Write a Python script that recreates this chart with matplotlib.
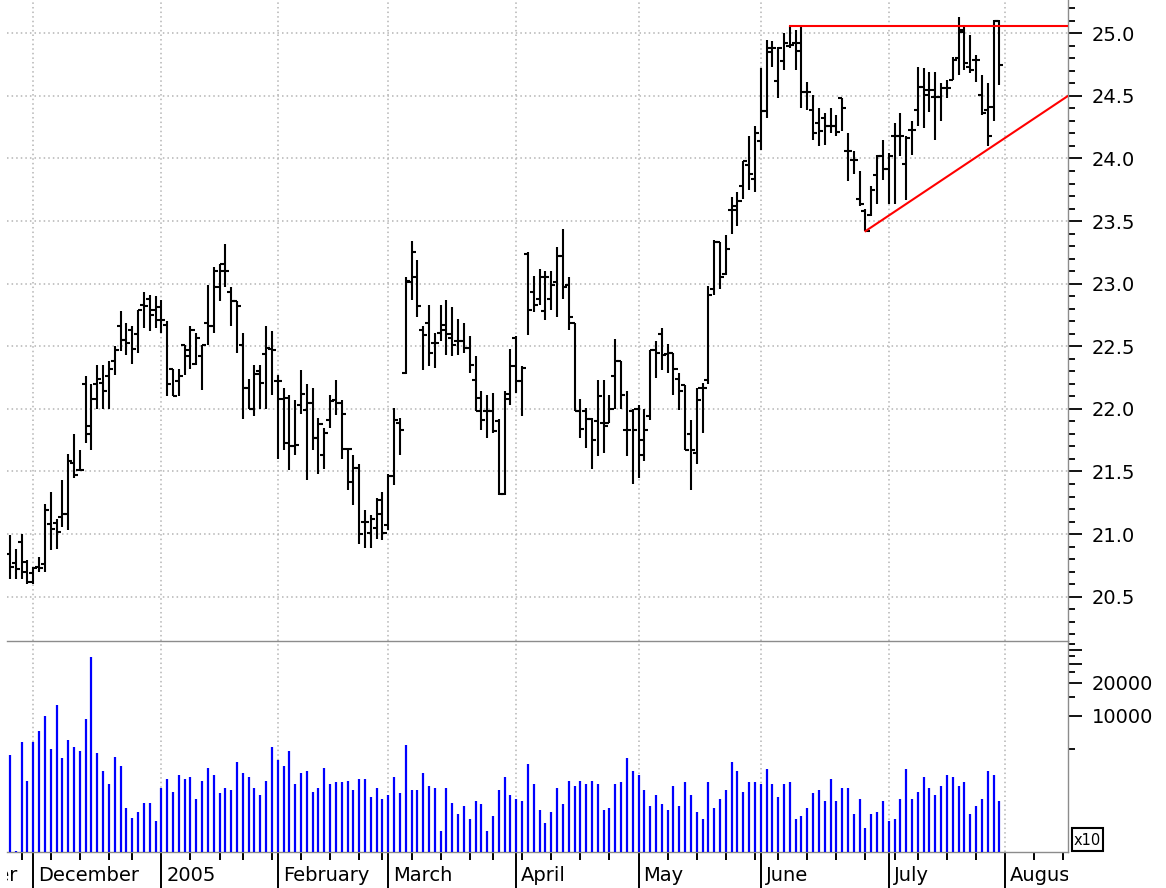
import numpy as np
import pandas as pd
import matplotlib
matplotlib.use("Agg")
import matplotlib.pyplot as plt
from matplotlib.collections import LineCollection
from matplotlib.ticker import FixedLocator, MultipleLocator, NullFormatter, FuncFormatter
from matplotlib.patches import Rectangle

plt.rcParams['font.family'] = ['DejaVu Sans']

# ---------------- data ----------------
holidays = ['2004-11-25', '2004-12-24', '2005-01-17', '2005-02-21',
            '2005-03-25', '2005-05-30', '2005-07-04']
first_day = '2004-11-24'
month_labels = ['November', 'December', '2005', 'February', 'March', 'April',
                'May', 'June', 'July', 'August']

open_ = [20.84, 20.77, 20.94, 20.70, 20.69, 20.74, 20.76, 21.08, 21.09, 21.14,
         21.16, 21.57, 21.51, 22.20, 21.86, 22.20, 22.21, 22.26, 22.38, 22.66,
         22.55, 22.63, 22.60, 22.83, 22.88, 22.79, 22.81, 22.67, 22.32, 22.22,
         22.51, 22.42, 22.36, 22.42, 22.69, 22.66, 22.97, 23.10, 22.93, 22.86,
         22.51, 22.17, 22.00, 22.30, 22.44, 22.48, 22.22, 22.08, 21.73, 21.70,
         22.03, 21.99, 22.05, 21.77, 21.63, 21.91, 22.07, 22.05, 21.68, 21.42,
         21.53, 21.10, 21.01, 21.05, 21.16, 21.07, 21.46, 21.89, 22.29, 23.01,
         23.05, 22.63, 22.69, 22.53, 22.61, 22.67, 22.57, 22.54, 22.54, 22.49,
         22.23, 22.09, 21.98, 21.98, 21.90, 21.32, 22.08, 22.57, 22.22, 23.24,
         22.93, 22.88, 22.78, 22.88, 23.01, 23.22, 22.99, 22.69, 21.98, 21.98,
         21.92, 21.90, 21.89, 21.89, 22.26, 22.38, 21.83, 21.98, 22.00, 21.63,
         21.94, 22.47, 22.60, 22.44, 22.45, 22.24, 22.19, 21.80, 21.65, 22.17,
         22.23, 22.96, 23.33, 23.08, 23.59, 23.62, 23.78, 23.95, 23.84, 24.14,
         24.38, 24.88, 24.62, 24.78, 24.90, 24.92, 24.86, 24.53, 24.39, 24.28,
         24.32, 24.26, 24.26, 24.48, 24.06, 23.99, 23.68, 23.58, 23.55, 23.87,
         24.02, 23.92, 24.18, 24.18, 23.96, 24.23, 24.39, 24.57, 24.55, 24.49,
         24.49, 24.56, 24.63, 24.80, 25.01, 24.73, 24.79, 24.51, 24.39, 24.41,
         25.10]

high = [20.99, 20.88, 21.00, 20.79, 20.74, 20.82, 21.24, 21.34, 21.12, 21.43,
        21.64, 21.80, 21.67, 22.26, 22.20, 22.35, 22.35, 22.38, 22.50, 22.78,
        22.69, 22.66, 22.79, 22.93, 22.91, 22.90, 22.87, 22.70, 22.32, 22.32,
        22.51, 22.66, 22.61, 22.51, 22.99, 23.13, 23.16, 23.32, 22.97, 22.86,
        22.61, 22.24, 22.35, 22.35, 22.66, 22.62, 22.27, 22.17, 22.11, 22.07,
        22.31, 22.20, 22.17, 21.93, 21.85, 22.11, 22.23, 22.07, 21.68, 21.63,
        21.56, 21.19, 21.15, 21.29, 21.34, 21.48, 22.01, 21.93, 23.05, 23.34,
        23.19, 22.66, 22.83, 22.61, 22.83, 22.87, 22.81, 22.72, 22.69, 22.58,
        22.42, 22.14, 22.11, 22.13, 21.92, 22.14, 22.48, 22.58, 22.34, 23.25,
        23.06, 23.12, 23.10, 23.10, 23.29, 23.44, 23.05, 22.69, 22.08, 22.01,
        21.93, 22.23, 22.23, 22.11, 22.56, 22.38, 22.14, 22.00, 22.03, 22.00,
        22.47, 22.54, 22.65, 22.52, 22.45, 22.29, 22.19, 21.91, 22.17, 22.21,
        22.98, 23.35, 23.33, 23.39, 23.69, 23.73, 23.98, 24.18, 24.26, 24.72,
        24.95, 24.94, 24.89, 25.00, 25.06, 25.03, 25.05, 24.61, 24.51, 24.40,
        24.36, 24.40, 24.35, 24.48, 24.20, 24.06, 23.90, 23.60, 23.78, 24.03,
        24.15, 24.04, 24.28, 24.36, 24.18, 24.30, 24.73, 24.72, 24.69, 24.69,
        24.60, 24.63, 24.81, 25.13, 25.07, 24.99, 24.83, 24.67, 24.60, 25.11,
        25.11]

low = [20.64, 20.64, 20.64, 20.60, 20.60, 20.70, 20.70, 20.87, 20.88, 21.06,
       21.03, 21.45, 21.50, 21.73, 21.67, 22.00, 22.00, 22.00, 22.27, 22.46,
       22.43, 22.36, 22.45, 22.65, 22.62, 22.65, 22.61, 22.10, 22.10, 22.10,
       22.27, 22.32, 22.35, 22.15, 22.51, 22.61, 22.86, 22.97, 22.66, 22.45,
       21.92, 22.00, 21.94, 22.00, 22.00, 22.11, 21.60, 21.67, 21.51, 21.63,
       21.96, 21.43, 21.67, 21.48, 21.52, 21.85, 21.95, 21.60, 21.35, 21.23,
       20.92, 20.89, 20.89, 20.96, 20.95, 21.03, 21.39, 21.63, 22.28, 22.87,
       22.73, 22.31, 22.34, 22.33, 22.54, 22.43, 22.42, 22.43, 22.45, 22.29,
       21.98, 21.83, 21.77, 21.81, 21.31, 21.31, 22.03, 22.13, 21.94, 22.59,
       22.77, 22.83, 22.71, 22.79, 22.73, 22.88, 22.63, 21.98, 21.77, 21.69,
       21.52, 21.62, 21.65, 21.89, 22.00, 22.00, 21.62, 21.40, 21.45, 21.58,
       21.91, 22.25, 22.31, 22.29, 22.11, 21.99, 21.67, 21.35, 21.56, 21.81,
       22.20, 22.91, 22.96, 23.07, 23.40, 23.46, 23.68, 23.75, 23.73, 24.07,
       24.32, 24.73, 24.48, 24.71, 24.88, 24.71, 24.40, 24.39, 24.15, 24.10,
       24.11, 24.20, 24.18, 24.22, 23.82, 23.88, 23.62, 23.42, 23.54, 23.64,
       23.83, 23.64, 23.64, 24.02, 23.67, 24.03, 24.26, 24.24, 24.37, 24.15,
       24.30, 24.48, 24.63, 24.67, 24.71, 24.68, 24.61, 24.35, 24.10, 24.30,
       24.59]

close = [20.74, 20.72, 20.78, 20.62, 20.73, 20.73, 21.19, 21.04, 21.02, 21.16,
         21.58, 21.47, 21.51, 21.80, 22.08, 22.24, 22.14, 22.32, 22.47, 22.55,
         22.53, 22.48, 22.79, 22.82, 22.75, 22.71, 22.71, 22.20, 22.10, 22.26,
         22.47, 22.63, 22.57, 22.51, 22.66, 23.10, 23.16, 23.10, 22.86, 22.82,
         22.17, 22.00, 22.28, 22.21, 22.49, 22.47, 22.22, 22.09, 21.70, 21.71,
         22.12, 22.05, 21.77, 21.88, 21.81, 22.06, 22.05, 21.96, 21.68, 21.53,
         21.00, 21.10, 21.12, 21.27, 21.01, 21.46, 21.91, 21.83, 23.02, 23.25,
         22.82, 22.59, 22.45, 22.53, 22.63, 22.60, 22.51, 22.54, 22.49, 22.35,
         21.98, 21.91, 21.98, 21.82, 21.32, 22.12, 22.34, 22.22, 22.33, 22.79,
         22.83, 23.05, 23.05, 22.99, 23.22, 22.97, 22.73, 21.98, 21.84, 21.92,
         21.75, 22.10, 21.86, 22.00, 22.38, 22.11, 21.83, 21.83, 21.75, 21.83,
         22.47, 22.45, 22.43, 22.45, 22.32, 22.14, 21.67, 21.67, 22.07, 22.17,
         22.91, 23.33, 23.05, 23.28, 23.59, 23.66, 23.98, 23.88, 24.20, 24.38,
         24.85, 24.88, 24.88, 24.92, 24.91, 24.92, 24.53, 24.53, 24.20, 24.22,
         24.26, 24.26, 24.21, 24.40, 24.06, 23.99, 23.64, 23.42, 23.75, 24.02,
         23.92, 24.02, 24.18, 24.18, 24.16, 24.23, 24.57, 24.51, 24.55, 24.49,
         24.56, 24.56, 24.79, 25.03, 24.76, 24.71, 24.79, 24.36, 24.18, 25.10,
         24.75]

volume = [4410, 590, 5830, 2570, 5750, 7340, 10000, 5000, 12600, 4110,
          6040, 5180, 4790, 9330, 34800, 4620, 3150, 2390, 4250, 3500,
          1440, 1180, 1330, 1620, 1620, 1100, 2220, 2680, 2040, 2890,
          2680, 2790, 1750, 2570, 3380, 2890, 1970, 2220, 2110, 3800,
          3000, 2790, 2220, 1900, 2570, 5180, 3970, 3520, 4790, 2380,
          3000, 3130, 2040, 2220, 3380, 2380, 2480, 2480, 2570, 2110,
          2680, 2680, 1810, 2220, 1750, 1900, 2790, 1970,
          5400, 2110, 2110, 3000, 2300, 2220, 900, 2220, 1620, 1280,
          1500, 1140, 1670, 1560, 900, 1230, 2110, 2790, 1900, 1750,
          1670, 3640, 2390, 1390, 1060, 1330, 2220, 1560, 2570, 2300,
          2570, 2390, 2570, 2390, 1390, 1440, 2390, 2480, 4110, 3150,
          2890, 2110, 1500, 1900, 1560, 1390, 2300, 1500, 2480, 1900,
          1330, 1140, 2480, 1440, 1750, 2110, 3800, 3150, 2040, 2480,
          2480, 2390, 3260, 2390, 1810, 2390, 2480, 1140, 1230, 1440,
          1970, 2110, 1670, 2680, 1670, 2220, 2220, 1280, 1750, 950,
          1280, 1330, 1670, 1100, 1140, 1750, 3260, 1750, 2040, 2790,
          2220, 1900, 2300, 2890, 2790, 2300, 2480, 1280, 1500, 1750,
          3150, 2890, 1670]

# red annotation lines: (bar index, price)
resistance_start = (134, 25.06)
support_start = (147, 23.42)
support_end_price = 24.50

# ---------------- calendar positions ----------------
cal = pd.bdate_range('2004-11-01', '2005-08-31', freq='C', holidays=holidays)
offset = cal.get_loc(pd.Timestamp(first_day))
cal_x = np.arange(len(cal)) - offset
months = np.array(cal.month)
weeks = np.array(cal.isocalendar().week)
month_pos = cal_x[np.r_[True, months[1:] != months[:-1]]]
week_pos = cal_x[np.r_[True, weeks[1:] != weeks[:-1]]]

n = len(close)
x = np.arange(n)

# ---------------- figure ----------------
W, H = 1166, 888
fig = plt.figure(figsize=(W / 100, H / 100), dpi=100)
left, right = 7 / W, 1068 / W
ax_v = fig.add_axes([left, 1 - 852 / H, right - left, 211 / H])
ax_l = fig.add_axes([left, 0, right - left, 36 / H])
ax_p = fig.add_axes([left, 1 - 641 / H, right - left, 641 / H])
for a in (ax_v, ax_l, ax_p):
    a.patch.set_visible(False)

xmin, xmax = -0.52, 181.8

grid_kw = dict(color='#b4b4b4', linestyle=(0, (1, 2)), linewidth=1.1)
spine_col = '#8c8c8c'

# ---- price panel ----
tk = 0.7
segs = []
for i in range(n):
    segs.append([(x[i], low[i]), (x[i], high[i])])
    segs.append([(x[i] - tk, open_[i]), (x[i], open_[i])])
    segs.append([(x[i], close[i]), (x[i] + tk, close[i])])
ax_p.add_collection(LineCollection(segs, colors='black', linewidths=1.5,
                                   capstyle='butt', zorder=3))

ax_p.plot([resistance_start[0], xmax], [resistance_start[1]] * 2,
          color='#ff0000', lw=1.5, zorder=4)
ax_p.plot([support_start[0], xmax], [support_start[1], support_end_price],
          color='#ff0000', lw=1.5, zorder=4)

ax_p.yaxis.set_major_locator(MultipleLocator(0.5))
ax_p.yaxis.set_minor_locator(MultipleLocator(0.1))
ax_p.yaxis.set_major_formatter(FuncFormatter(lambda v, p: f'{v:.1f}'))
ax_p.yaxis.tick_right()
ax_p.tick_params(axis='y', which='major', length=10, width=1.3, pad=7,
                 labelsize=14, direction='out')
ax_p.tick_params(axis='y', which='minor', length=5, width=1.3, direction='out')
ax_p.xaxis.set_major_locator(FixedLocator(month_pos))
ax_p.tick_params(axis='x', length=0, labelbottom=False)
ax_p.grid(True, which='major', **grid_kw)
ax_p.set_axisbelow(True)
for s in ('top', 'left'):
    ax_p.spines[s].set_visible(False)
for s in ('right', 'bottom'):
    ax_p.spines[s].set_color(spine_col)
    ax_p.spines[s].set_linewidth(1.0)
ax_p.set_ylim(20.146, 25.266)

# ---- volume panel ----
vbot, vtop = 574, 48300
ax_v.set_yscale('log')
ax_v.vlines(x, vbot, volume, color='#0000ff', lw=1.6, zorder=3)
ax_v.set_ylim(vbot, vtop)
ax_v.yaxis.tick_right()
ax_v.yaxis.set_major_locator(FixedLocator([10000, 20000, 30000, 40000]))
ax_v.yaxis.set_minor_locator(FixedLocator([5000, 15000, 25000, 35000, 45000]))
ax_v.yaxis.set_major_formatter(
    FuncFormatter(lambda v, p: f'{int(round(v))}' if round(v) in (10000, 20000) else ''))
ax_v.yaxis.set_minor_formatter(NullFormatter())
ax_v.tick_params(axis='y', which='major', length=10, width=1.3, pad=7,
                 labelsize=14, direction='out')
ax_v.tick_params(axis='y', which='minor', length=5, width=1.3, direction='out')
ax_v.xaxis.set_major_locator(FixedLocator(month_pos))
ax_v.xaxis.set_minor_locator(FixedLocator(week_pos))
ax_v.xaxis.set_major_formatter(NullFormatter())
ax_v.tick_params(axis='x', which='major', length=26, width=1.4, direction='out',
                 color='black')
ax_v.tick_params(axis='x', which='minor', length=5.8, width=1.4, direction='out',
                 color='black')
ax_v.grid(True, axis='x', which='major', **grid_kw)
ax_v.set_axisbelow(True)
for s in ('top', 'left'):
    ax_v.spines[s].set_visible(False)
for s in ('right', 'bottom'):
    ax_v.spines[s].set_color(spine_col)
    ax_v.spines[s].set_linewidth(1.0)

# ---- month labels (clipped to plot width) ----
ax_l.set_ylim(0, 1)
ax_l.axis('off')
for pos, lab in zip(month_pos, month_labels):
    ax_l.text(pos + 0.85, 0.2, lab, fontsize=14, ha='left', va='baseline',
              clip_on=True)

for a in (ax_p, ax_v, ax_l):
    a.set_xlim(xmin, xmax)

# ---- x10 box ----
fig.patches.append(Rectangle((1072 / W, 1 - 851 / H), 31 / W, 23 / H,
                             transform=fig.transFigure, fill=False,
                             edgecolor='black', linewidth=1.5))
fig.text(1087.5 / W, 1 - 840 / H, 'x10', fontsize=10.5, ha='center', va='center')

fig.savefig('out.png', dpi=100, facecolor='white')
